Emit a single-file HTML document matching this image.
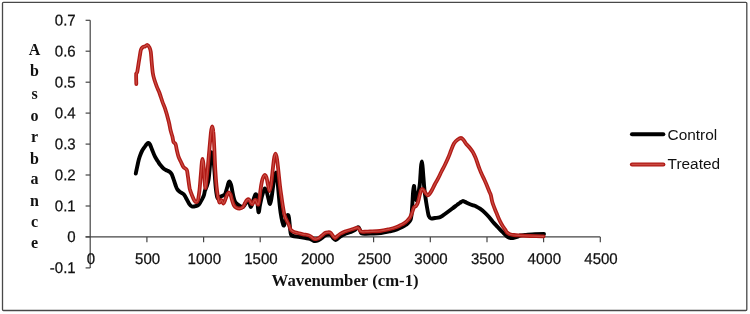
<!DOCTYPE html>
<html><head><meta charset="utf-8"><title>FTIR spectra</title>
<style>
html,body{margin:0;padding:0;background:#fff;}
svg{display:block}
.t{font-family:"Liberation Sans",sans-serif;font-size:15.5px;fill:#111;stroke:#111;stroke-width:0.25px}
.l{font-family:"Liberation Sans",sans-serif;font-size:15.4px;fill:#111}
.b{font-family:"Liberation Serif",serif;font-weight:bold;font-size:16px;fill:#111}
</style></head><body>
<svg width="750" height="314" viewBox="0 0 750 314">
<rect x="0" y="0" width="750" height="314" fill="#fff"/>
<rect x="2.5" y="2.3" width="744.3" height="308.2" rx="1" fill="none" stroke="#484848" stroke-width="1.3"/>
<line x1="90.2" y1="20.3" x2="90.2" y2="267.9" stroke="#454545" stroke-width="1.2"/>
<line x1="85.60000000000001" y1="236.95" x2="600.3" y2="236.95" stroke="#454545" stroke-width="1.2"/>
<line x1="85.60000000000001" y1="267.9" x2="90.2" y2="267.9" stroke="#454545" stroke-width="1.2"/>
<line x1="85.60000000000001" y1="236.9" x2="90.2" y2="236.9" stroke="#454545" stroke-width="1.2"/>
<line x1="85.60000000000001" y1="206.0" x2="90.2" y2="206.0" stroke="#454545" stroke-width="1.2"/>
<line x1="85.60000000000001" y1="175.0" x2="90.2" y2="175.0" stroke="#454545" stroke-width="1.2"/>
<line x1="85.60000000000001" y1="144.1" x2="90.2" y2="144.1" stroke="#454545" stroke-width="1.2"/>
<line x1="85.60000000000001" y1="113.1" x2="90.2" y2="113.1" stroke="#454545" stroke-width="1.2"/>
<line x1="85.60000000000001" y1="82.2" x2="90.2" y2="82.2" stroke="#454545" stroke-width="1.2"/>
<line x1="85.60000000000001" y1="51.2" x2="90.2" y2="51.2" stroke="#454545" stroke-width="1.2"/>
<line x1="85.60000000000001" y1="20.3" x2="90.2" y2="20.3" stroke="#454545" stroke-width="1.2"/>
<line x1="146.9" y1="236.95" x2="146.9" y2="242.25" stroke="#454545" stroke-width="1.2"/>
<line x1="203.6" y1="236.95" x2="203.6" y2="242.25" stroke="#454545" stroke-width="1.2"/>
<line x1="260.2" y1="236.95" x2="260.2" y2="242.25" stroke="#454545" stroke-width="1.2"/>
<line x1="316.9" y1="236.95" x2="316.9" y2="242.25" stroke="#454545" stroke-width="1.2"/>
<line x1="373.6" y1="236.95" x2="373.6" y2="242.25" stroke="#454545" stroke-width="1.2"/>
<line x1="430.3" y1="236.95" x2="430.3" y2="242.25" stroke="#454545" stroke-width="1.2"/>
<line x1="487.0" y1="236.95" x2="487.0" y2="242.25" stroke="#454545" stroke-width="1.2"/>
<line x1="543.6" y1="236.95" x2="543.6" y2="242.25" stroke="#454545" stroke-width="1.2"/>
<line x1="600.3" y1="236.95" x2="600.3" y2="242.25" stroke="#454545" stroke-width="1.2"/>
<path d="M135.8,173.5C135.9,172.9 136.1,171.8 136.5,170.0C136.9,168.2 137.5,165.2 138.0,163.0C138.5,160.8 139.0,158.7 139.7,156.7C140.4,154.7 141.1,152.7 142.0,151.0C142.9,149.3 144.2,147.7 145.0,146.5C145.8,145.3 146.4,144.4 147.0,143.8C147.6,143.2 147.9,142.9 148.4,143.0C148.9,143.1 149.4,143.4 150.0,144.5C150.6,145.6 151.2,147.5 152.0,149.5C152.8,151.5 154.0,154.7 155.0,156.7C156.0,158.7 157.1,160.1 158.0,161.5C158.9,162.9 159.4,163.8 160.4,165.0C161.4,166.2 162.7,167.9 163.8,168.8C164.9,169.7 166.0,170.0 167.0,170.5C168.0,171.0 169.0,171.3 169.8,172.0C170.6,172.7 171.2,173.2 171.8,174.4C172.4,175.6 172.9,177.2 173.5,179.0C174.1,180.8 174.9,183.3 175.5,185.0C176.1,186.7 176.3,187.8 177.1,189.0C177.8,190.2 178.9,191.1 180.0,192.0C181.1,192.9 182.8,193.4 183.8,194.4C184.8,195.4 185.1,196.4 186.0,198.0C186.9,199.6 188.2,202.4 189.2,203.8C190.2,205.2 190.9,206.1 192.0,206.5C193.1,206.9 194.9,206.3 196.0,206.0C197.1,205.7 197.8,205.5 198.5,204.8C199.2,204.1 199.8,203.1 200.5,202.0C201.2,200.9 201.9,199.7 202.5,198.5C203.1,197.3 203.6,196.3 204.0,195.0C204.4,193.7 204.6,191.8 205.0,190.5C205.4,189.2 205.9,188.8 206.5,187.0C207.1,185.2 207.9,183.7 208.5,180.0C209.1,176.3 209.6,169.3 210.0,165.0C210.4,160.7 210.9,156.1 211.2,154.0C211.5,151.9 211.7,152.3 212.0,152.5C212.3,152.7 212.7,152.9 213.0,155.0C213.3,157.1 213.7,161.2 214.0,165.0C214.3,168.8 214.7,173.8 215.0,178.0C215.3,182.2 215.6,186.7 216.0,190.0C216.4,193.3 216.9,196.8 217.5,198.0C218.1,199.2 218.8,197.3 219.5,197.0C220.2,196.7 221.1,196.4 222.0,196.0C222.9,195.6 224.2,195.6 225.0,194.3C225.8,193.0 226.4,189.8 227.0,188.0C227.6,186.2 227.9,184.6 228.3,183.5C228.7,182.4 229.1,181.3 229.5,181.5C229.9,181.7 230.5,182.9 231.0,184.5C231.5,186.1 231.9,188.9 232.3,191.0C232.7,193.1 233.1,195.2 233.5,197.0C233.9,198.8 234.4,200.3 235.0,201.5C235.6,202.7 236.2,203.2 237.0,204.0C237.8,204.8 239.0,205.5 240.0,206.0C241.0,206.5 242.0,207.5 243.0,207.0C244.0,206.5 245.0,203.8 246.0,203.0C247.0,202.2 248.2,201.3 249.0,202.0C249.8,202.7 250.3,207.2 251.0,207.0C251.7,206.8 252.3,202.9 253.0,201.0C253.7,199.1 254.5,196.4 255.0,195.3C255.5,194.2 255.7,193.9 256.0,194.2C256.3,194.5 256.6,194.0 257.0,197.0C257.4,200.0 258.0,210.7 258.5,212.0C259.0,213.3 259.4,207.7 260.0,205.0C260.6,202.3 261.3,198.5 262.0,196.0C262.7,193.5 263.5,191.2 264.0,190.0C264.5,188.8 264.6,188.3 265.0,188.5C265.4,188.7 265.9,189.2 266.5,191.0C267.1,192.8 267.9,196.8 268.5,199.0C269.1,201.2 269.5,204.2 270.0,204.0C270.5,203.8 271.0,200.8 271.5,198.0C272.0,195.2 272.5,190.5 273.0,187.0C273.5,183.5 274.0,179.4 274.5,177.0C275.0,174.6 275.6,172.5 276.0,172.5C276.4,172.5 276.8,173.8 277.2,177.0C277.6,180.2 278.0,186.8 278.5,192.0C279.0,197.2 279.5,203.7 280.0,208.0C280.5,212.3 281.0,215.3 281.5,218.0C282.0,220.7 282.6,222.8 283.0,224.0C283.4,225.2 283.6,226.0 284.0,225.5C284.4,225.0 285.0,222.6 285.5,221.0C286.0,219.4 286.6,217.0 287.0,216.0C287.4,215.0 287.7,214.7 288.0,215.0C288.3,215.3 288.7,215.8 289.0,218.0C289.3,220.2 289.7,225.2 290.0,228.0C290.3,230.8 290.5,233.2 291.0,234.5C291.5,235.8 291.5,235.6 293.0,236.0C294.5,236.4 297.2,236.5 300.0,237.0C302.8,237.5 307.7,238.3 310.0,239.0C312.3,239.7 312.7,240.8 314.0,241.0C315.3,241.2 316.7,241.0 318.0,240.5C319.3,240.0 320.8,238.8 322.0,238.0C323.2,237.2 324.0,236.1 325.0,235.5C326.0,234.9 327.0,234.6 328.0,234.5C329.0,234.4 330.1,234.3 331.0,235.0C331.9,235.7 332.8,237.7 333.5,238.5C334.2,239.3 334.8,240.0 335.5,240.0C336.2,240.0 337.1,239.2 338.0,238.5C338.9,237.8 339.7,236.8 341.0,236.0C342.3,235.2 344.3,234.2 346.0,233.5C347.7,232.8 349.5,232.6 351.0,232.0C352.5,231.4 354.0,230.7 355.0,230.0C356.0,229.3 356.4,228.2 357.0,227.8C357.6,227.4 358.0,226.9 358.5,227.3C359.0,227.7 359.5,229.0 360.0,230.0C360.5,231.0 360.5,232.7 361.5,233.3C362.5,233.9 364.2,233.7 366.0,233.7C367.8,233.7 369.5,233.6 372.0,233.5C374.5,233.4 377.8,233.4 381.0,233.0C384.2,232.6 388.3,231.6 391.0,231.0C393.7,230.4 395.3,229.9 397.0,229.3C398.7,228.7 399.7,228.2 401.0,227.5C402.3,226.8 403.8,226.1 405.0,225.3C406.2,224.6 407.1,223.9 408.0,223.0C408.9,222.1 409.9,221.3 410.5,220.0C411.1,218.7 411.2,217.5 411.5,215.0C411.8,212.5 412.0,208.8 412.3,205.0C412.6,201.2 412.8,195.2 413.1,192.0C413.4,188.8 413.8,186.3 414.0,186.0C414.2,185.7 414.3,188.7 414.5,190.0C414.7,191.3 414.8,192.7 415.0,194.0C415.2,195.3 415.4,196.9 415.6,198.0C415.8,199.1 416.1,200.5 416.3,200.5C416.6,200.5 416.8,199.0 417.1,198.0C417.4,197.0 417.6,195.8 417.9,194.5C418.2,193.2 418.6,192.1 418.9,190.3C419.2,188.6 419.6,186.4 419.8,184.0C420.1,181.6 420.2,178.8 420.4,176.0C420.6,173.2 420.8,169.4 421.0,167.0C421.2,164.6 421.5,161.5 421.8,161.5C422.1,161.5 422.3,164.4 422.6,167.0C422.9,169.6 423.1,173.7 423.4,177.0C423.7,180.3 423.9,184.1 424.2,187.0C424.5,189.9 424.6,191.8 425.0,194.5C425.4,197.2 425.9,200.4 426.3,203.0C426.7,205.6 427.1,207.8 427.5,210.0C427.9,212.2 428.2,214.6 428.8,216.0C429.4,217.4 430.0,218.2 431.0,218.5C432.0,218.8 433.6,218.2 435.0,218.0C436.4,217.8 438.2,217.7 439.5,217.3C440.8,216.9 441.8,216.2 443.0,215.4C444.2,214.6 445.4,213.7 447.0,212.5C448.6,211.3 450.9,209.6 452.6,208.3C454.3,207.1 455.8,205.9 457.0,205.0C458.2,204.1 459.1,203.5 460.0,202.8C460.9,202.2 461.8,201.2 462.6,201.1C463.4,200.9 463.9,201.4 465.0,201.9C466.1,202.4 468.0,203.4 469.4,204.0C470.8,204.6 472.3,205.0 473.5,205.4C474.7,205.8 475.6,206.1 476.7,206.7C477.8,207.2 478.6,207.7 480.0,208.7C481.4,209.7 483.3,211.2 484.8,212.6C486.3,214.0 487.7,215.5 489.0,217.0C490.3,218.5 491.5,220.1 492.8,221.7C494.1,223.2 495.7,224.9 497.0,226.3C498.3,227.8 499.6,229.2 500.8,230.4C502.0,231.6 503.1,232.6 504.0,233.5C504.9,234.4 505.7,235.3 506.5,236.0C507.3,236.7 507.9,237.2 509.0,237.5C510.1,237.8 511.7,238.1 513.0,238.0C514.3,237.9 515.8,237.4 517.0,237.0C518.2,236.6 518.7,235.8 520.0,235.5C521.3,235.2 522.5,235.2 525.0,235.0C527.5,234.8 531.8,234.4 535.0,234.2C538.2,234.0 542.5,234.0 544.0,234.0" fill="none" stroke="#000" stroke-width="3.9" stroke-linejoin="round" stroke-linecap="round"/>
<path d="M136.3,84.0C136.3,82.3 136.0,76.0 136.2,74.0C136.3,72.0 136.8,73.7 137.2,72.0C137.6,70.3 138.1,66.7 138.5,64.0C138.9,61.3 139.4,58.4 139.8,56.0C140.2,53.6 140.5,51.0 141.0,49.5C141.5,48.0 142.3,47.5 143.0,47.0C143.7,46.5 144.3,46.9 145.0,46.5C145.7,46.1 146.6,44.6 147.3,44.8C148.1,45.0 148.9,46.3 149.5,47.5C150.1,48.7 150.5,49.9 150.8,52.0C151.1,54.1 151.2,56.5 151.5,60.0C151.8,63.5 152.3,69.7 152.8,73.0C153.3,76.3 153.8,77.7 154.5,80.0C155.2,82.3 156.0,84.5 156.8,86.7C157.6,88.9 158.6,90.5 159.5,93.0C160.4,95.5 161.6,99.4 162.5,102.0C163.4,104.6 163.9,105.1 165.0,108.4C166.1,111.7 167.9,118.1 168.8,121.7C169.7,125.3 169.9,127.5 170.5,130.0C171.1,132.6 172.0,135.0 172.5,137.0C173.0,139.0 173.0,140.8 173.5,142.0C174.0,143.2 174.9,142.7 175.5,144.0C176.1,145.3 176.3,147.9 176.8,150.0C177.3,152.1 177.8,154.7 178.5,156.7C179.2,158.7 180.2,160.3 181.0,162.0C181.8,163.7 182.7,165.9 183.4,167.0C184.1,168.1 184.7,167.9 185.3,168.5C185.9,169.1 186.6,169.1 187.0,170.5C187.4,171.9 187.5,173.9 188.0,177.0C188.5,180.1 189.1,185.8 189.8,189.0C190.6,192.2 191.7,194.5 192.5,196.5C193.3,198.5 193.9,199.9 194.5,200.8C195.1,201.8 195.7,202.3 196.3,202.2C196.9,202.1 197.5,202.0 198.0,200.0C198.5,198.0 199.0,194.2 199.5,190.0C200.0,185.8 200.4,179.5 200.8,175.0C201.2,170.5 201.5,165.7 201.8,163.0C202.1,160.3 202.2,159.0 202.5,159.0C202.8,159.0 203.0,160.3 203.3,163.0C203.6,165.7 203.9,170.8 204.2,175.0C204.5,179.2 204.9,187.2 205.3,188.0C205.7,188.8 206.1,183.8 206.5,180.0C206.9,176.2 207.5,170.3 208.0,165.0C208.5,159.7 209.0,153.5 209.5,148.0C210.0,142.5 210.6,135.6 211.0,132.0C211.4,128.4 211.8,126.3 212.2,126.3C212.6,126.3 213.0,128.4 213.3,132.0C213.7,135.6 214.0,141.7 214.3,148.0C214.6,154.3 214.9,163.7 215.3,170.0C215.7,176.3 216.1,181.7 216.5,186.0C216.9,190.3 217.3,193.2 217.8,196.0C218.3,198.8 218.9,201.8 219.5,202.5C220.1,203.2 220.8,199.8 221.5,200.0C222.2,200.2 222.8,203.7 223.5,203.5C224.2,203.3 224.8,200.6 225.5,199.0C226.2,197.4 226.9,195.1 227.5,194.0C228.1,192.9 228.5,192.4 229.0,192.5C229.5,192.6 230.0,193.2 230.5,194.5C231.0,195.8 231.4,198.2 232.0,200.0C232.6,201.8 233.2,204.2 234.0,205.5C234.8,206.8 235.6,207.3 236.5,207.8C237.4,208.3 238.4,208.6 239.5,208.5C240.6,208.4 242.1,207.9 243.0,207.0C243.9,206.1 244.3,204.2 245.0,203.0C245.7,201.8 246.3,200.6 247.0,200.0C247.7,199.4 248.3,199.0 249.0,199.5C249.7,200.0 250.4,202.2 251.0,203.0C251.6,203.8 252.0,204.3 252.5,204.0C253.0,203.7 253.5,201.7 254.0,201.0C254.5,200.3 255.0,199.7 255.5,200.0C256.0,200.3 256.5,202.2 257.0,203.0C257.5,203.8 257.9,205.0 258.3,204.5C258.7,204.0 258.9,202.4 259.3,200.0C259.7,197.6 260.1,193.2 260.5,190.0C260.9,186.8 261.5,183.2 262.0,181.0C262.5,178.8 263.0,177.5 263.5,176.5C264.0,175.5 264.5,174.8 265.0,175.0C265.5,175.2 266.0,175.8 266.5,177.5C267.0,179.2 267.5,182.8 268.0,185.0C268.5,187.2 269.0,191.0 269.5,191.0C270.0,191.0 270.5,188.2 271.0,185.0C271.5,181.8 272.0,176.3 272.5,172.0C273.0,167.7 273.5,162.1 274.0,159.0C274.5,155.9 275.0,153.7 275.5,153.7C276.0,153.7 276.5,155.9 277.0,159.0C277.5,162.1 278.0,167.5 278.5,172.0C279.0,176.5 279.5,181.8 280.0,186.0C280.5,190.2 281.0,193.5 281.5,197.0C282.0,200.5 282.5,204.0 283.0,207.0C283.5,210.0 284.0,213.0 284.5,215.0C285.0,217.0 285.4,217.7 286.0,219.0C286.6,220.3 287.4,221.8 288.0,223.0C288.6,224.2 289.0,225.3 289.5,226.5C290.0,227.7 290.2,229.1 291.0,230.0C291.8,230.9 292.8,231.5 294.0,232.0C295.2,232.5 296.5,232.6 298.0,233.0C299.5,233.4 301.2,233.9 303.0,234.3C304.8,234.7 307.5,235.0 309.0,235.5C310.5,236.0 311.2,236.9 312.0,237.5C312.8,238.1 313.2,238.8 314.0,239.0C314.8,239.2 316.2,239.0 317.0,238.8C317.8,238.6 318.2,238.6 319.0,238.0C319.8,237.4 321.0,236.3 322.0,235.5C323.0,234.7 324.0,233.5 325.0,233.0C326.0,232.5 327.1,232.4 328.0,232.3C328.9,232.2 329.7,232.1 330.5,232.7C331.3,233.3 332.2,235.1 333.0,236.0C333.8,236.9 334.3,237.9 335.0,238.0C335.7,238.1 336.2,237.2 337.0,236.5C337.8,235.8 338.7,234.8 340.0,234.0C341.3,233.2 343.3,232.2 345.0,231.5C346.7,230.8 348.5,230.4 350.0,230.0C351.5,229.6 352.9,229.2 354.0,228.8C355.1,228.4 355.8,227.9 356.5,227.8C357.2,227.7 357.9,227.6 358.5,228.0C359.1,228.4 359.5,229.9 360.0,230.5C360.5,231.1 360.5,231.5 361.5,231.7C362.5,231.9 364.6,231.7 366.0,231.7C367.4,231.7 367.7,231.6 370.0,231.5C372.3,231.4 376.7,231.4 380.0,231.0C383.3,230.6 387.3,229.6 390.0,229.0C392.7,228.4 394.3,227.9 396.0,227.3C397.7,226.7 398.7,226.2 400.0,225.5C401.3,224.8 402.8,224.1 404.0,223.3C405.2,222.6 406.0,222.0 407.0,221.0C408.0,220.0 409.2,218.8 410.0,217.5C410.8,216.2 411.4,214.4 412.0,213.0C412.6,211.6 412.9,210.0 413.3,209.0C413.7,208.0 413.9,207.5 414.3,207.0C414.8,206.5 415.5,206.6 416.0,206.0C416.5,205.4 417.0,204.7 417.5,203.5C418.0,202.3 418.4,200.6 418.8,199.0C419.2,197.4 419.6,195.4 420.0,194.0C420.4,192.6 420.7,191.3 421.0,190.5C421.3,189.7 421.6,189.1 422.0,189.0C422.4,188.9 422.9,189.3 423.5,190.0C424.1,190.7 424.8,192.1 425.5,193.0C426.2,193.9 426.8,195.1 427.5,195.3C428.2,195.5 428.8,194.9 429.5,194.0C430.2,193.1 431.1,191.7 432.0,190.0C432.9,188.3 434.0,185.9 435.0,184.0C436.0,182.1 436.9,180.8 438.0,178.7C439.1,176.6 440.3,173.9 441.5,171.5C442.7,169.1 444.1,166.6 445.2,164.3C446.3,162.0 447.3,159.8 448.3,157.5C449.3,155.2 450.1,152.8 451.0,150.5C451.9,148.2 452.9,145.3 454.0,143.5C455.1,141.7 456.3,140.7 457.5,139.8C458.7,138.9 460.0,138.0 461.0,138.0C462.0,138.0 462.7,139.1 463.5,140.0C464.3,140.9 465.0,142.4 466.0,143.7C467.0,144.9 468.4,146.1 469.5,147.5C470.6,148.9 472.0,150.7 472.8,152.0C473.6,153.3 473.9,154.1 474.5,155.3C475.1,156.5 475.5,157.4 476.2,159.3C476.9,161.2 477.9,164.7 478.8,167.0C479.7,169.3 480.4,171.2 481.4,173.4C482.3,175.6 483.5,177.8 484.5,180.0C485.5,182.2 486.6,184.7 487.4,186.7C488.2,188.7 488.9,190.6 489.5,192.0C490.1,193.4 490.3,193.3 490.8,195.0C491.3,196.7 491.7,199.8 492.3,202.0C492.9,204.2 493.8,206.2 494.6,208.4C495.4,210.6 496.4,212.8 497.3,215.0C498.2,217.2 499.3,219.9 500.2,221.7C501.1,223.5 501.8,224.7 502.7,226.0C503.6,227.3 504.6,228.7 505.3,229.8C506.0,230.9 506.2,231.8 507.0,232.5C507.8,233.2 508.8,233.8 510.0,234.2C511.2,234.6 512.3,234.8 514.0,235.0C515.7,235.2 517.3,235.3 520.0,235.5C522.7,235.7 526.1,235.9 530.0,236.0C533.9,236.1 541.3,236.2 543.6,236.3" fill="none" stroke="#b01a16" stroke-width="3.8" stroke-linejoin="round" stroke-linecap="round"/>
<path d="M136.3,84.0C136.3,82.3 136.0,76.0 136.2,74.0C136.3,72.0 136.8,73.7 137.2,72.0C137.6,70.3 138.1,66.7 138.5,64.0C138.9,61.3 139.4,58.4 139.8,56.0C140.2,53.6 140.5,51.0 141.0,49.5C141.5,48.0 142.3,47.5 143.0,47.0C143.7,46.5 144.3,46.9 145.0,46.5C145.7,46.1 146.6,44.6 147.3,44.8C148.1,45.0 148.9,46.3 149.5,47.5C150.1,48.7 150.5,49.9 150.8,52.0C151.1,54.1 151.2,56.5 151.5,60.0C151.8,63.5 152.3,69.7 152.8,73.0C153.3,76.3 153.8,77.7 154.5,80.0C155.2,82.3 156.0,84.5 156.8,86.7C157.6,88.9 158.6,90.5 159.5,93.0C160.4,95.5 161.6,99.4 162.5,102.0C163.4,104.6 163.9,105.1 165.0,108.4C166.1,111.7 167.9,118.1 168.8,121.7C169.7,125.3 169.9,127.5 170.5,130.0C171.1,132.6 172.0,135.0 172.5,137.0C173.0,139.0 173.0,140.8 173.5,142.0C174.0,143.2 174.9,142.7 175.5,144.0C176.1,145.3 176.3,147.9 176.8,150.0C177.3,152.1 177.8,154.7 178.5,156.7C179.2,158.7 180.2,160.3 181.0,162.0C181.8,163.7 182.7,165.9 183.4,167.0C184.1,168.1 184.7,167.9 185.3,168.5C185.9,169.1 186.6,169.1 187.0,170.5C187.4,171.9 187.5,173.9 188.0,177.0C188.5,180.1 189.1,185.8 189.8,189.0C190.6,192.2 191.7,194.5 192.5,196.5C193.3,198.5 193.9,199.9 194.5,200.8C195.1,201.8 195.7,202.3 196.3,202.2C196.9,202.1 197.5,202.0 198.0,200.0C198.5,198.0 199.0,194.2 199.5,190.0C200.0,185.8 200.4,179.5 200.8,175.0C201.2,170.5 201.5,165.7 201.8,163.0C202.1,160.3 202.2,159.0 202.5,159.0C202.8,159.0 203.0,160.3 203.3,163.0C203.6,165.7 203.9,170.8 204.2,175.0C204.5,179.2 204.9,187.2 205.3,188.0C205.7,188.8 206.1,183.8 206.5,180.0C206.9,176.2 207.5,170.3 208.0,165.0C208.5,159.7 209.0,153.5 209.5,148.0C210.0,142.5 210.6,135.6 211.0,132.0C211.4,128.4 211.8,126.3 212.2,126.3C212.6,126.3 213.0,128.4 213.3,132.0C213.7,135.6 214.0,141.7 214.3,148.0C214.6,154.3 214.9,163.7 215.3,170.0C215.7,176.3 216.1,181.7 216.5,186.0C216.9,190.3 217.3,193.2 217.8,196.0C218.3,198.8 218.9,201.8 219.5,202.5C220.1,203.2 220.8,199.8 221.5,200.0C222.2,200.2 222.8,203.7 223.5,203.5C224.2,203.3 224.8,200.6 225.5,199.0C226.2,197.4 226.9,195.1 227.5,194.0C228.1,192.9 228.5,192.4 229.0,192.5C229.5,192.6 230.0,193.2 230.5,194.5C231.0,195.8 231.4,198.2 232.0,200.0C232.6,201.8 233.2,204.2 234.0,205.5C234.8,206.8 235.6,207.3 236.5,207.8C237.4,208.3 238.4,208.6 239.5,208.5C240.6,208.4 242.1,207.9 243.0,207.0C243.9,206.1 244.3,204.2 245.0,203.0C245.7,201.8 246.3,200.6 247.0,200.0C247.7,199.4 248.3,199.0 249.0,199.5C249.7,200.0 250.4,202.2 251.0,203.0C251.6,203.8 252.0,204.3 252.5,204.0C253.0,203.7 253.5,201.7 254.0,201.0C254.5,200.3 255.0,199.7 255.5,200.0C256.0,200.3 256.5,202.2 257.0,203.0C257.5,203.8 257.9,205.0 258.3,204.5C258.7,204.0 258.9,202.4 259.3,200.0C259.7,197.6 260.1,193.2 260.5,190.0C260.9,186.8 261.5,183.2 262.0,181.0C262.5,178.8 263.0,177.5 263.5,176.5C264.0,175.5 264.5,174.8 265.0,175.0C265.5,175.2 266.0,175.8 266.5,177.5C267.0,179.2 267.5,182.8 268.0,185.0C268.5,187.2 269.0,191.0 269.5,191.0C270.0,191.0 270.5,188.2 271.0,185.0C271.5,181.8 272.0,176.3 272.5,172.0C273.0,167.7 273.5,162.1 274.0,159.0C274.5,155.9 275.0,153.7 275.5,153.7C276.0,153.7 276.5,155.9 277.0,159.0C277.5,162.1 278.0,167.5 278.5,172.0C279.0,176.5 279.5,181.8 280.0,186.0C280.5,190.2 281.0,193.5 281.5,197.0C282.0,200.5 282.5,204.0 283.0,207.0C283.5,210.0 284.0,213.0 284.5,215.0C285.0,217.0 285.4,217.7 286.0,219.0C286.6,220.3 287.4,221.8 288.0,223.0C288.6,224.2 289.0,225.3 289.5,226.5C290.0,227.7 290.2,229.1 291.0,230.0C291.8,230.9 292.8,231.5 294.0,232.0C295.2,232.5 296.5,232.6 298.0,233.0C299.5,233.4 301.2,233.9 303.0,234.3C304.8,234.7 307.5,235.0 309.0,235.5C310.5,236.0 311.2,236.9 312.0,237.5C312.8,238.1 313.2,238.8 314.0,239.0C314.8,239.2 316.2,239.0 317.0,238.8C317.8,238.6 318.2,238.6 319.0,238.0C319.8,237.4 321.0,236.3 322.0,235.5C323.0,234.7 324.0,233.5 325.0,233.0C326.0,232.5 327.1,232.4 328.0,232.3C328.9,232.2 329.7,232.1 330.5,232.7C331.3,233.3 332.2,235.1 333.0,236.0C333.8,236.9 334.3,237.9 335.0,238.0C335.7,238.1 336.2,237.2 337.0,236.5C337.8,235.8 338.7,234.8 340.0,234.0C341.3,233.2 343.3,232.2 345.0,231.5C346.7,230.8 348.5,230.4 350.0,230.0C351.5,229.6 352.9,229.2 354.0,228.8C355.1,228.4 355.8,227.9 356.5,227.8C357.2,227.7 357.9,227.6 358.5,228.0C359.1,228.4 359.5,229.9 360.0,230.5C360.5,231.1 360.5,231.5 361.5,231.7C362.5,231.9 364.6,231.7 366.0,231.7C367.4,231.7 367.7,231.6 370.0,231.5C372.3,231.4 376.7,231.4 380.0,231.0C383.3,230.6 387.3,229.6 390.0,229.0C392.7,228.4 394.3,227.9 396.0,227.3C397.7,226.7 398.7,226.2 400.0,225.5C401.3,224.8 402.8,224.1 404.0,223.3C405.2,222.6 406.0,222.0 407.0,221.0C408.0,220.0 409.2,218.8 410.0,217.5C410.8,216.2 411.4,214.4 412.0,213.0C412.6,211.6 412.9,210.0 413.3,209.0C413.7,208.0 413.9,207.5 414.3,207.0C414.8,206.5 415.5,206.6 416.0,206.0C416.5,205.4 417.0,204.7 417.5,203.5C418.0,202.3 418.4,200.6 418.8,199.0C419.2,197.4 419.6,195.4 420.0,194.0C420.4,192.6 420.7,191.3 421.0,190.5C421.3,189.7 421.6,189.1 422.0,189.0C422.4,188.9 422.9,189.3 423.5,190.0C424.1,190.7 424.8,192.1 425.5,193.0C426.2,193.9 426.8,195.1 427.5,195.3C428.2,195.5 428.8,194.9 429.5,194.0C430.2,193.1 431.1,191.7 432.0,190.0C432.9,188.3 434.0,185.9 435.0,184.0C436.0,182.1 436.9,180.8 438.0,178.7C439.1,176.6 440.3,173.9 441.5,171.5C442.7,169.1 444.1,166.6 445.2,164.3C446.3,162.0 447.3,159.8 448.3,157.5C449.3,155.2 450.1,152.8 451.0,150.5C451.9,148.2 452.9,145.3 454.0,143.5C455.1,141.7 456.3,140.7 457.5,139.8C458.7,138.9 460.0,138.0 461.0,138.0C462.0,138.0 462.7,139.1 463.5,140.0C464.3,140.9 465.0,142.4 466.0,143.7C467.0,144.9 468.4,146.1 469.5,147.5C470.6,148.9 472.0,150.7 472.8,152.0C473.6,153.3 473.9,154.1 474.5,155.3C475.1,156.5 475.5,157.4 476.2,159.3C476.9,161.2 477.9,164.7 478.8,167.0C479.7,169.3 480.4,171.2 481.4,173.4C482.3,175.6 483.5,177.8 484.5,180.0C485.5,182.2 486.6,184.7 487.4,186.7C488.2,188.7 488.9,190.6 489.5,192.0C490.1,193.4 490.3,193.3 490.8,195.0C491.3,196.7 491.7,199.8 492.3,202.0C492.9,204.2 493.8,206.2 494.6,208.4C495.4,210.6 496.4,212.8 497.3,215.0C498.2,217.2 499.3,219.9 500.2,221.7C501.1,223.5 501.8,224.7 502.7,226.0C503.6,227.3 504.6,228.7 505.3,229.8C506.0,230.9 506.2,231.8 507.0,232.5C507.8,233.2 508.8,233.8 510.0,234.2C511.2,234.6 512.3,234.8 514.0,235.0C515.7,235.2 517.3,235.3 520.0,235.5C522.7,235.7 526.1,235.9 530.0,236.0C533.9,236.1 541.3,236.2 543.6,236.3" fill="none" stroke="#ca4c43" stroke-width="1.2" stroke-linejoin="round" stroke-linecap="round"/>
<line x1="632" y1="134.3" x2="663.3" y2="134.3" stroke="#000" stroke-width="4.1" stroke-linecap="round"/>
<line x1="632" y1="164.5" x2="663.3" y2="164.5" stroke="#b01a16" stroke-width="4.2" stroke-linecap="round"/>
<line x1="632" y1="164.5" x2="663.3" y2="164.5" stroke="#ca4c43" stroke-width="1.3" stroke-linecap="round"/>
<text transform="translate(75.7,273.1) rotate(0.03) scale(0.97,1)" text-anchor="end" class="t">-0.1</text>
<text transform="translate(75.7,242.1) rotate(0.03) scale(0.97,1)" text-anchor="end" class="t">0</text>
<text transform="translate(75.7,211.2) rotate(0.03) scale(0.97,1)" text-anchor="end" class="t">0.1</text>
<text transform="translate(75.7,180.2) rotate(0.03) scale(0.97,1)" text-anchor="end" class="t">0.2</text>
<text transform="translate(75.7,149.3) rotate(0.03) scale(0.97,1)" text-anchor="end" class="t">0.3</text>
<text transform="translate(75.7,118.3) rotate(0.03) scale(0.97,1)" text-anchor="end" class="t">0.4</text>
<text transform="translate(75.7,87.4) rotate(0.03) scale(0.97,1)" text-anchor="end" class="t">0.5</text>
<text transform="translate(75.7,56.5) rotate(0.03) scale(0.97,1)" text-anchor="end" class="t">0.6</text>
<text transform="translate(75.7,25.5) rotate(0.03) scale(0.97,1)" text-anchor="end" class="t">0.7</text>
<text transform="translate(90.9,264.1) rotate(0.03) scale(0.97,1)" text-anchor="middle" class="t">0</text>
<text transform="translate(147.6,264.1) rotate(0.03) scale(0.97,1)" text-anchor="middle" class="t">500</text>
<text transform="translate(204.3,264.1) rotate(0.03) scale(0.97,1)" text-anchor="middle" class="t">1000</text>
<text transform="translate(260.9,264.1) rotate(0.03) scale(0.97,1)" text-anchor="middle" class="t">1500</text>
<text transform="translate(317.6,264.1) rotate(0.03) scale(0.97,1)" text-anchor="middle" class="t">2000</text>
<text transform="translate(374.3,264.1) rotate(0.03) scale(0.97,1)" text-anchor="middle" class="t">2500</text>
<text transform="translate(431.0,264.1) rotate(0.03) scale(0.97,1)" text-anchor="middle" class="t">3000</text>
<text transform="translate(487.7,264.1) rotate(0.03) scale(0.97,1)" text-anchor="middle" class="t">3500</text>
<text transform="translate(544.3,264.1) rotate(0.03) scale(0.97,1)" text-anchor="middle" class="t">4000</text>
<text transform="translate(601.0,264.1) rotate(0.03) scale(0.97,1)" text-anchor="middle" class="t">4500</text>
<text x="34.5" y="55" text-anchor="middle" class="b">A</text>
<text x="34.5" y="76" text-anchor="middle" class="b">b</text>
<text x="34.5" y="99" text-anchor="middle" class="b">s</text>
<text x="34.5" y="121" text-anchor="middle" class="b">o</text>
<text x="34.5" y="142" text-anchor="middle" class="b">r</text>
<text x="34.5" y="164" text-anchor="middle" class="b">b</text>
<text x="34.5" y="184" text-anchor="middle" class="b">a</text>
<text x="34.5" y="206" text-anchor="middle" class="b">n</text>
<text x="34.5" y="227" text-anchor="middle" class="b">c</text>
<text x="34.5" y="248" text-anchor="middle" class="b">e</text>
<text x="271.6" y="285.8" textLength="147" lengthAdjust="spacingAndGlyphs" class="b">Wavenumber (cm-1)</text>
<text x="667.6" y="140" class="l">Control</text>
<text x="667.6" y="168.5" class="l">Treated</text>
</svg>
</body></html>
